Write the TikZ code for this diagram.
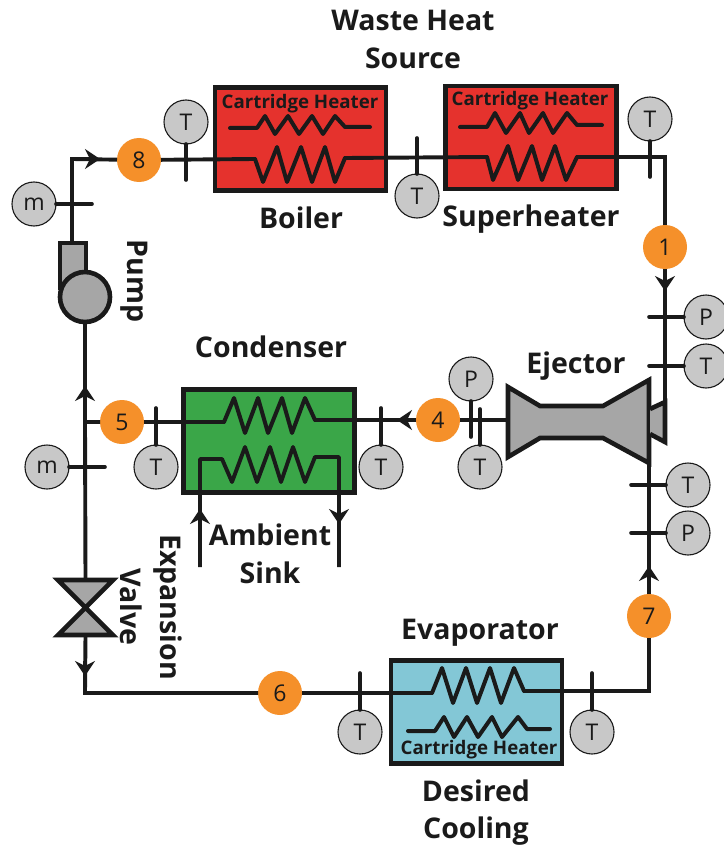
\documentclass[tikz,border=0pt]{standalone}
\usepackage{fontspec}
\setmainfont{Open Sans}
\usetikzlibrary{arrows.meta}
\definecolor{ink}{HTML}{1A1A1A}
\definecolor{hotred}{HTML}{E5322D}
\definecolor{sinkgreen}{HTML}{3AA648}
\definecolor{coldblue}{HTML}{83C7D6}
\definecolor{statorange}{HTML}{F5902A}
\definecolor{partgray}{HTML}{A6A6A6}
\definecolor{gaugegray}{HTML}{C8C8C8}
\tikzset{
  hx/.style={draw=ink,line width=4.6pt,minimum width=171pt,minimum height=103pt,inner sep=0pt,outer sep=0pt},
  pipe/.style={draw=ink,line width=3.9pt,line join=miter},
  coil/.style={draw=ink,line width=4pt,line join=round,line cap=round},
  stem/.style={draw=ink,line width=3.6pt,line cap=round},
  part/.style={draw=ink,line width=4.6pt,fill=partgray,line join=miter},
  flow/.style={draw=ink,line width=3.9pt,-{Stealth[length=15pt,width=20pt,inset=5pt]}},
  state/.style={circle,fill=statorange,minimum size=44pt,inner sep=0pt,outer sep=0pt,text=ink,font=\fontsize{23}{25}\selectfont},
  gauge/.style={circle,draw=ink,line width=1.1pt,fill=gaugegray,minimum size=44pt,inner sep=0pt,outer sep=0pt,text=ink,font=\fontsize{23}{25}\selectfont},
  lbl/.style={text=ink,inner sep=0pt,font=\fontsize{28.5}{30}\selectfont\bfseries},
  chlbl/.style={text=ink,inner sep=0pt,font=\fontsize{18.7}{20}\selectfont\bfseries},
}
\newcommand{\mygauge}[4]{%
  \node[gauge] (#1) at (#2) {#3};
  \coordinate (#1e) at (#4);
  \draw[stem] (#1) -- (#1e);
}
\begin{document}
\begin{tikzpicture}[x=1pt,y=-1pt]
\useasboundingbox (0,0) rectangle (723,845);
\fill[white] (0,0) rectangle (723,845);

% heat exchanger boxes
\node[hx,fill=hotred] (boiler) at (300.5,139) {};
\node[hx,fill=hotred] (superheater) at (531,137.5) {};
\node[hx,fill=sinkgreen] (condenser) at (269,441) {};
\node[hx,fill=coldblue] (evaporator) at (476.5,712) {};

% state points
\node[state] (s8) at (139,160) {8};
\node[state] (s1) at (665,247) {1};
\node[state] (s4) at (438,420) {4};
\node[state] (s5) at (122,422) {5};
\node[state] (s6) at (280,693) {6};
\node[state] (s7) at (649,616) {7};

% named corners and coil ends
\coordinate (c8) at (72,159);
\coordinate (cPumpTop) at (72,243);
\coordinate (c1) at (665,157);
\coordinate (cNoz) at (665,442);
\coordinate (c7) at (649,691);
\coordinate (c5) at (85,422);
\coordinate (c6) at (85,693);
\coordinate (cEjOut) at (649,463);
\coordinate (cEjIn) at (508,420);

% ejector
\draw[part] (508,387) -- (540,406) -- (603,406) -- (649,380) -- (649,463) -- (603,438) -- (540,438) -- (508,457) -- cycle;
\draw[part] (650,409) -- (665,402) -- (665,442) -- (650,434);
% pump
\draw[part] (86,270) -- (86,243) -- (60,243) -- (60,290);
\node[circle,draw=ink,line width=4.6pt,fill=partgray,minimum size=50pt,inner sep=0pt,outer sep=0pt] (pump) at (85,297) {};
% valve
\draw[part] (58,580) -- (113,580) -- (58,635) -- (113,635) -- cycle;
\coordinate (vTop) at (85.5,580);
\coordinate (vBot) at (85.5,635);

% coils
\draw[coil] (255,159) -- (263,182) -- (277,147) -- (287,182) -- (301,147) -- (312,182) -- (325,147) -- (335,182) -- (345,158);
\draw[coil] (230,128) -- (257,128) -- (265,116) -- (275,134) -- (288,116) -- (299,134) -- (312,116) -- (323,134) -- (335,116) -- (345,127) -- (370,127);
\draw[coil] (487,157) -- (493,180) -- (508,146) -- (518,180) -- (532,146) -- (542,180) -- (555,146) -- (566,180) -- (577,157);
\draw[coil] (460,127) -- (487,127) -- (495,113) -- (506,133) -- (520,113) -- (529,133) -- (543,113) -- (553,133) -- (567,113) -- (577,125) -- (602,125);
\draw[coil] (224,422) -- (234,398) -- (245,433) -- (258,398) -- (268,433) -- (282,398) -- (292,433) -- (305,398) -- (315,420);
\draw[coil] (432,693) -- (442,668) -- (453,703) -- (466,668) -- (477,703) -- (490,668) -- (501,703) -- (514,668) -- (524,691);
\draw[coil] (408,731) -- (435,731) -- (444,717) -- (454,737) -- (467,717) -- (478,737) -- (492,717) -- (502,737) -- (518,717) -- (527,729) -- (550,729);
% ambient loop
\coordinate (aIn) at (200,567);
\coordinate (aOut) at (339,567);
\draw[pipe,line join=round] (aIn) -- (200,459) -- (222,459) -- (232,482) -- (245,447) -- (257,482) -- (270,447) -- (281,482) -- (293,447) -- (305,482) -- (315,457) -- (339,457) -- (aOut);

% main pipes
\draw[pipe] (s8) -- (c8) -- (cPumpTop);
\draw[pipe] (s8) -- (255,159);
\draw[pipe] (345,158) -- (487,157);
\draw[pipe] (577,157) -- (c1) -- (s1);
\draw[pipe] (s1) -- (cNoz);
\draw[pipe] (cEjOut) -- (s7);
\draw[pipe] (s7) -- (c7) -- (524,691);
\draw[pipe] (432,693) -- (s6);
\draw[pipe] (s6) -- (c6) -- (vBot);
\draw[pipe] (vTop) -- (c5) -- (s5);
\draw[pipe] (c5) -- (pump);
\draw[pipe] (s5) -- (224,422);
\draw[pipe] (315,420) -- (s4);
\draw[pipe] (s4) -- (cEjIn);

% flow arrowheads
\coordinate (a1s) at (85,159);   \coordinate (a1e) at (100,159);  \draw[flow] (a1s) -- (a1e);
\coordinate (a2s) at (665,276);  \coordinate (a2e) at (665,291);  \draw[flow] (a2s) -- (a2e);
\coordinate (a3s) at (415,420);  \coordinate (a3e) at (397,420);  \draw[flow] (a3s) -- (a3e);
\coordinate (a4s) at (85,401);   \coordinate (a4e) at (85,386);   \draw[flow] (a4s) -- (a4e);
\coordinate (a5s) at (85,661);   \coordinate (a5e) at (85,676);   \draw[flow] (a5s) -- (a5e);
\coordinate (a6s) at (649,581);  \coordinate (a6e) at (649,566);  \draw[flow] (a6s) -- (a6e);
\coordinate (a7s) at (200,524);  \coordinate (a7e) at (200,509);  \draw[flow] (a7s) -- (a7e);
\coordinate (a8s) at (339,509);  \coordinate (a8e) at (339,524);  \draw[flow] (a8s) -- (a8e);

% gauges
\mygauge{g1}{186,122}{T}{186,180}
\mygauge{g2}{417,196}{T}{417,138}
\mygauge{g3}{650,119}{T}{650,177}
\mygauge{g4}{34,204}{m}{92,204}
\mygauge{g5}{706,317}{P}{649,317}
\mygauge{g6}{706,366}{T}{649,366}
\mygauge{g7}{688,485}{T}{631,485}
\mygauge{g8}{688,533}{P}{631,533}
\mygauge{g9}{471,379}{P}{471,437}
\mygauge{g10}{480,467}{T}{480,409}
\mygauge{g11}{156,467}{T}{156,408}
\mygauge{g12}{381,467}{T}{381,408}
\mygauge{g13}{47,467}{m}{105,467}
\mygauge{g14}{360,732}{T}{360,673}
\mygauge{g15}{592,732}{T}{592,673}

% labels
\node[lbl] (l1) at (413,20) {Waste Heat};
\node[lbl] (l2) at (413,58) {Source};
\node[lbl] (l3) at (301,218) {Boiler};
\node[lbl] (l4) at (531,219) {Superheater};
\node[lbl] (l5) at (271,347) {Condenser};
\node[lbl] (l6) at (576,366) {Ejector};
\node[lbl] (l7) at (270,535) {Ambient};
\node[lbl] (l8) at (270,573) {Sink};
\node[lbl] (l9) at (480,633) {Evaporator};
\node[lbl] (l10) at (476,791) {Desired};
\node[lbl] (l11) at (476,831) {Cooling};
\node[lbl,rotate=-90] (l12) at (134,281) {Pump};
\node[lbl,rotate=-90] (l13) at (168,607) {Expansion};
\node[lbl,rotate=-90] (l14) at (131,607) {Valve};
\node[chlbl] (h1) at (300,104) {Cartridge Heater};
\node[chlbl] (h2) at (530,101) {Cartridge Heater};
\node[chlbl] (h3) at (479,750) {Cartridge Heater};
\end{tikzpicture}
\end{document}
